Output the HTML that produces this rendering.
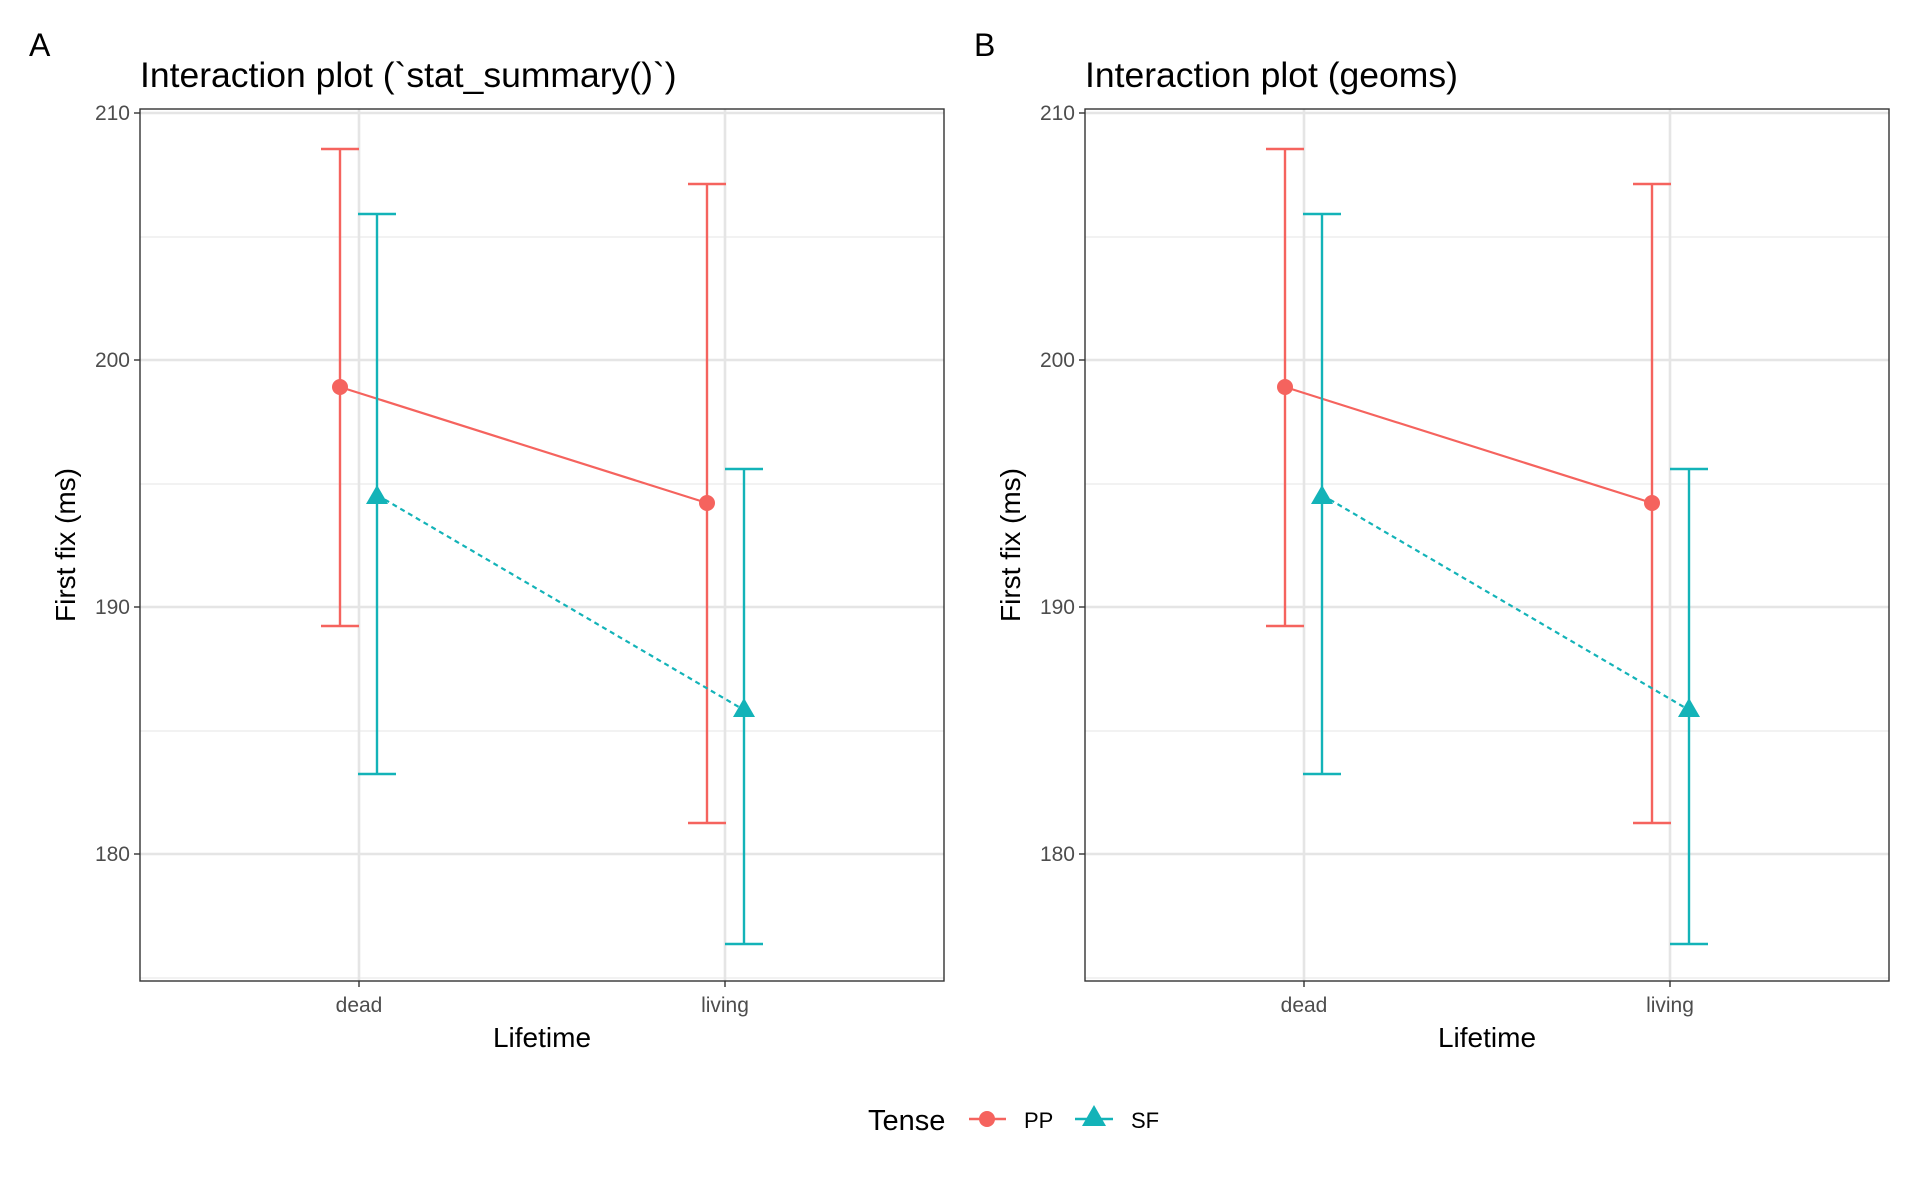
<!DOCTYPE html>
<html><head><meta charset="utf-8"><style>
html,body{margin:0;padding:0;background:#fff;}
svg{display:block;font-family:"Liberation Sans",Arial,sans-serif;}
</style></head><body>
<svg width="1920" height="1186" viewBox="0 0 1920 1186" xmlns="http://www.w3.org/2000/svg">
<defs>
<g id="panel">
  <g stroke="#ebebeb" stroke-width="1.3">
    <line x1="0" x2="804" y1="128" y2="128"/>
    <line x1="0" x2="804" y1="375" y2="375"/>
    <line x1="0" x2="804" y1="622" y2="622"/>
    <line x1="0" x2="804" y1="869" y2="869"/>
  </g>
  <g stroke="#e5e5e5" stroke-width="2.6">
    <line x1="0" x2="804" y1="4" y2="4"/>
    <line x1="0" x2="804" y1="251" y2="251"/>
    <line x1="0" x2="804" y1="498" y2="498"/>
    <line x1="0" x2="804" y1="745" y2="745"/>
    <line x1="219" x2="219" y1="0" y2="872"/>
    <line x1="585" x2="585" y1="0" y2="872"/>
  </g>
  <g stroke="#f5635e" stroke-width="2.4" fill="none">
    <line x1="200" y1="278" x2="567" y2="394" stroke-width="2.2"/>
    <line x1="200" y1="40" x2="200" y2="517"/>
    <line x1="181" y1="40" x2="219" y2="40"/>
    <line x1="181" y1="517" x2="219" y2="517"/>
    <line x1="567" y1="75" x2="567" y2="714"/>
    <line x1="548" y1="75" x2="586" y2="75"/>
    <line x1="548" y1="714" x2="586" y2="714"/>
  </g>
  <circle cx="200" cy="278" r="8" fill="#f5635e"/>
  <circle cx="567" cy="394" r="8" fill="#f5635e"/>
  <g stroke="#13b3b8" stroke-width="2.4" fill="none">
    <line x1="237" y1="386" x2="604" y2="601" stroke-dasharray="5,4" stroke-width="2.2"/>
    <line x1="237" y1="105" x2="237" y2="665"/>
    <line x1="218" y1="105" x2="256" y2="105"/>
    <line x1="218" y1="665" x2="256" y2="665"/>
    <line x1="604" y1="360" x2="604" y2="835"/>
    <line x1="585" y1="360" x2="623" y2="360"/>
    <line x1="585" y1="835" x2="623" y2="835"/>
  </g>
  <polygon points="237,376 248,395 226,395" fill="#13b3b8"/>
  <polygon points="604,589 615,608 593,608" fill="#13b3b8"/>
  <rect x="0" y="0" width="804" height="872" fill="none" stroke="#333" stroke-width="1.4"/>
  <g stroke="#333" stroke-width="1.4">
    <line x1="-6" x2="0" y1="4" y2="4"/>
    <line x1="-6" x2="0" y1="251" y2="251"/>
    <line x1="-6" x2="0" y1="498" y2="498"/>
    <line x1="-6" x2="0" y1="745" y2="745"/>
    <line x1="219" x2="219" y1="872" y2="878"/>
    <line x1="585" x2="585" y1="872" y2="878"/>
  </g>
  <g fill="#4d4d4d" font-size="21" text-anchor="end">
    <text x="-10" y="11">210</text>
    <text x="-10" y="258">200</text>
    <text x="-10" y="505">190</text>
    <text x="-10" y="752">180</text>
  </g>
  <g fill="#4d4d4d" font-size="21" text-anchor="middle">
    <text x="219" y="903">dead</text>
    <text x="585" y="903">living</text>
  </g>
  <text x="402" y="938" font-size="28" text-anchor="middle" fill="#000">Lifetime</text>
  <text transform="translate(-65,436) rotate(-90)" font-size="28" text-anchor="middle" fill="#000">First fix (ms)</text>
</g>
</defs>
<g transform="translate(140,109)"><use href="#panel"/></g>
<g transform="translate(1085,109)"><use href="#panel"/></g>
<text x="29" y="56" font-size="32">A</text>
<text x="140" y="87" font-size="35.5">Interaction plot (`stat_summary()`)</text>
<text x="974" y="56" font-size="32">B</text>
<text x="1085" y="87" font-size="35.5">Interaction plot (geoms)</text>
<text x="868" y="1130" font-size="29">Tense</text>
<line x1="969" x2="1006" y1="1119" y2="1119" stroke="#f5635e" stroke-width="2.4"/>
<circle cx="987" cy="1119" r="8" fill="#f5635e"/>
<text x="1024" y="1128" font-size="22">PP</text>
<line x1="1075" x2="1113" y1="1119" y2="1119" stroke="#13b3b8" stroke-width="2.4"/>
<polygon points="1094,1105 1106,1126 1082,1126" fill="#13b3b8"/>
<text x="1131" y="1128" font-size="22">SF</text>
</svg>
</body></html>
